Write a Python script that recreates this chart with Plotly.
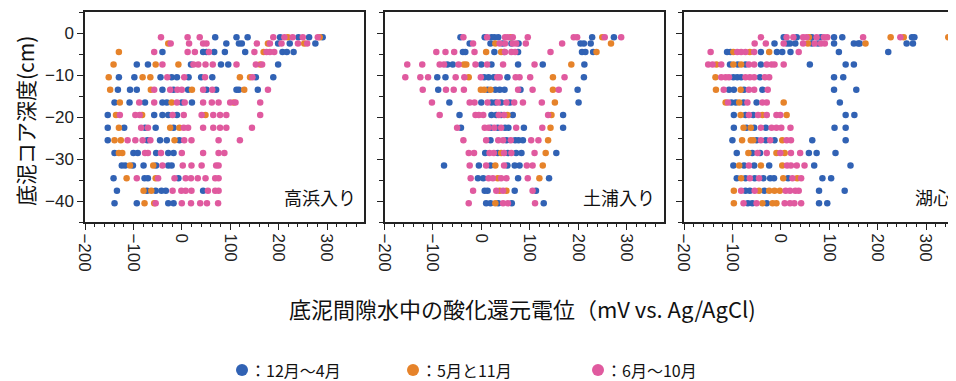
import plotly.graph_objects as go

# depth rows (cm) shared by all panels
DEPTHS = [-1, -2.5, -4.5, -7.5, -10.5, -13.5, -16.5, -19.5, -22.5, -25.5, -28.5, -31.5, -34.5, -37.5, -40.5]

PANELS = ["高浜入り", "土浦入り", "湖心"]
SERIES = ["：12月～4月", "：5月と11月", "：6月～10月"]
COLORS = ["#3162b4", "#e6832a", "#e05a9f"]
X_TICKS = [-200, -100, 0, 100, 200, 300]
X_TICK_LABELS = ["−200", "−100", "0", "100", "200", "300"]
Y_TICKS = [0, -10, -20, -30, -40]
Y_TICK_LABELS = ["0", "−10", "−20", "−30", "−40"]

# ---- 高浜入り (mV per depth row) ----
takahama_blue = [
    [69, 113, 136, 203, 241, 263, 291],
    [92, 118, 124, 199, 223, 276],
    [-40, 44, 51, 67, 89, 131, 208, 217, 231],
    [-93, -70, 19, 81, 96, 199],
    [-130, -98, -44, -21, -10, 14, 40, 63, 153, 189],
    [-132, -107, -93, -40, -17, 13, 51, 71, 113, 118, 157],
    [-139, -108, -76, -40, -31, 0, 21],
    [-153, -57, -40, -28, -10],
    [-153, -119, -76, -54, -17],
    [-153, -71, -45, -31, -5],
    [-139, -100, -91, -53, -28, -17],
    [-124, -117, -101, -79, -53, -28, -21],
    [-141, -77, -70, -7],
    [-134, -72, -54, -42, -33, 44],
    [-139, -93, -28, -17],
]
takahama_orange = [
    [219, 285],
    [-28, 178, 253],
    [-130, 169],
    [-141, -54, -7, 162],
    [-151, -81, -65, 120, 141],
    [-148, -64, 21, 129],
    [-128, -21, 107],
    [-136, -82, 49],
    [-130, -24, -5],
    [-139, -126, -15],
    [-130, -123],
    [-107, -59],
    [-114, -54],
    [-79, -63],
    [-77, -57],
]
takahama_pink = [
    [-43, 12, 37, 189, 212, 229, 250, 281],
    [-23, 15, 44, 51, 155, 182, 206, 240, 259],
    [-57, 12, 27, 56, 150, 175, 182, 191],
    [-40, 24, 34, 49, 64, 113, 153, 166],
    [-30, 5, 48, 146],
    [-57, -24, -9, 0, 44, 63, 178],
    [-88, -57, -10, 6, 44, 62, 76, 100, 111, 162],
    [-128, -96, -87, -19, 4, 41, 65, 79, 92, 162],
    [-84, -70, 4, 13, 44, 65, 79, 92, 145],
    [-112, -96, -81, -65, 5, 20, 76, 120],
    [-76, -70, -43, 0, 44, 76, 88],
    [-40, 2, 20, 41, 71, 76],
    [-93, -49, -15, 8, 19, 33, 49, 69, 76],
    [-19, -1, 8, 20, 54, 69, 76],
    [-54, 0, 19, 38, 52, 75],
]

# ---- 土浦入り ----
tsuchiura_blue = [
    [-43, 7, 21, 27, 35, 229, 274],
    [-24, 19, 44, 62, 77, 205, 212, 226],
    [-38, -33, 27, 47, 76, 208, 215, 231],
    [-70, -59, 0, 21, 76, 127, 213],
    [-91, -74, 6, 15, 26, 54, 212],
    [-89, 13, 29, 38, 48, 81, 199],
    [-66, 0, 21, 29, 41, 59, 201],
    [-45, 21, 31, 41, 65, 169],
    [-42, 20, 34, 49, 56, 88, 169],
    [19, 52, 70, 77, 86],
    [8, 34, 55, 72, 83, 155],
    [-77, -5, 19, 54, 69, 79],
    [-7, 4, 76, 140],
    [7, 13, 69, 113],
    [10, 19, 35, 63, 129],
]
tsuchiura_orange = [
    [61, 250],
    [29, 268],
    [10, 41, 238],
    [-36, -31, 186],
    [-26, 148],
    [-1, 6, 19, 148],
    [152],
    [54, 145],
    [143],
    [138],
    [41, 133],
    [29, 127],
    [34, 120],
    [38, 52],
    [29],
]
tsuchiura_pink = [
    [-37, 12, 49, 55, 65, 96, 191, 198, 255, 289],
    [-17, 38, 49, 65, 72, 92, 167],
    [-93, -74, -56, -14, 49, 62, 70, 143],
    [-153, -122, -86, -77, -47, -12, 12, 45, 110],
    [-157, -126, -110, -53, -35, -1, 33, 38, 71, 79, 101, 172],
    [-121, -73, -57, -36, 76, 106, 160],
    [-102, -24, -14, 13, 34, 52, 68, 86, 125],
    [-86, -12, -5, 4, 36, 47, 138],
    [-50, 7, 15, 27, 41, 72, 126],
    [-37, 10, 35, 45, 61, 103, 118],
    [-26, -15, 17, 26, 47, 62, 110],
    [-24, 10, 47, 94, 106],
    [-22, 15, 24, 41, 52, 96],
    [-17, 31, 45, 106],
    [-26, 45, 55, 111],
]

# ---- 湖心 ----
koshin_blue = [
    [6, 33, 64, 83, 110, 127, 271, 276],
    [-13, 13, 19, 30, 64, 77, 110, 151, 160, 163, 260, 273],
    [-111, -104, -41, -8, 3, 20, 120, 222],
    [-105, -89, -73, -41, 60, 134, 151],
    [-98, -90, -82, -43, 110, 129],
    [-107, -97, -76, -38, 110, 156],
    [-102, -93, -77, -50, 122],
    [-97, -73, -57, 134, 152],
    [-97, -71, -55, -31, 111, 134],
    [-100, -50, -31, -13, 65, 134],
    [-91, -59, -43, 58, 74, 113],
    [-98, -76, -55, -24, 69, 144],
    [-91, -73, -54, -36, -22, -14, 15, 86, 104],
    [-73, -64, -34, 79, 132],
    [-68, -59, -29, 79, 96],
]
koshin_orange = [
    [58, 227, 254, 346],
    [56, 175],
    [-98, -64, -24],
    [-133, -98, -82],
    [-135],
    [-134, -83],
    [-114, -86, 6],
    [-83, -38, 12],
    [-77, -62],
    [-80, -62, -57, 3],
    [-67, -9, 8],
    [-86, -41, 3],
    [-82, 5, 34],
    [-97, -45, -24, -13, -2],
    [-97, -38, -17, -9],
]
koshin_pink = [
    [-41, 12, 26, 46, 53, 74, 89, 96, 170, 247],
    [-54, -31, 6, 46, 70, 83, 91],
    [-145, -90, -82, -73, -55, 37],
    [-150, -141, -123, -66, -55, -29, -19, -13, 6],
    [-123, -114, -107, -73, -64, -55, -33, -24],
    [-118, -66, -55, -27],
    [-109, -69, -38, -29],
    [-66, -47, -29, -9, -1],
    [-41, -19, -9, 1, 20],
    [-41, -22, 12, 21],
    [-48, -29, -1, 21, 40],
    [-66, 13, 21, 33, 49],
    [-64, -45, 24, 42],
    [-82, -54, 10, 19, 30, 37],
    [-77, -50, 8, 19, 28, 42],
]

panel_data = [
    [takahama_blue, takahama_orange, takahama_pink],
    [tsuchiura_blue, tsuchiura_orange, tsuchiura_pink],
    [koshin_blue, koshin_orange, koshin_pink],
]

# page body has an 8 px margin: lay out in window pixels, then shift
OFF = 8
WIN_W, WIN_H = 956, 381
W, H = WIN_W - OFF, WIN_H - OFF


def fx(px):
    return (px - OFF) / W


def fy(py):
    return (H - (py - OFF)) / H


PLOT_TOP, PLOT_BOTTOM = 12, 222.3
PX_PER_100 = 48.4
panel_px = [(85, 364), (384.5, 663.5), (684, 956)]

fig = go.Figure()
NUM_FONT = "Liberation Sans, Arial, Noto Sans CJK JP"
CJK_FONT = "Noto Sans CJK JP, Liberation Sans"

for p, series_list in enumerate(panel_data):
    xa = "x" if p == 0 else f"x{p+1}"
    ya = "y" if p == 0 else f"y{p+1}"
    for s, rows in enumerate(series_list):
        xs, ys = [], []
        for d, vals in zip(DEPTHS, rows):
            for v in vals:
                xs.append(v)
                ys.append(d)
        fig.add_trace(go.Scatter(
            x=xs, y=ys, mode="markers", xaxis=xa, yaxis=ya,
            marker=dict(size=6.5, color=COLORS[s], line=dict(width=0)),
            showlegend=False, hoverinfo="skip", cliponaxis=False))

ydom = [fy(PLOT_BOTTOM), fy(PLOT_TOP)]
layout = dict(
    width=W, height=H, margin=dict(l=0, r=0, t=0, b=0, autoexpand=False),
    paper_bgcolor="white", plot_bgcolor="white", showlegend=False,
)
for p, (x0, x1) in enumerate(panel_px):
    xk = "xaxis" if p == 0 else f"xaxis{p+1}"
    yk = "yaxis" if p == 0 else f"yaxis{p+1}"
    xmax = -200 + (x1 - x0) / PX_PER_100 * 100
    layout[xk] = dict(
        domain=[fx(x0), min(1.0, fx(x1))], range=[-200, xmax],
        anchor="y" if p == 0 else f"y{p+1}", automargin=False,
        tickvals=X_TICKS, ticktext=X_TICK_LABELS, tickangle=90,
        ticks="outside", ticklen=6, tickwidth=1.2, tickcolor="#222",
        minor=dict(dtick=20, tick0=0, ticks="outside", ticklen=3, tickcolor="#222", tickwidth=1),
        showline=True, mirror=True, linecolor="#222", linewidth=1.5,
        showgrid=False, zeroline=False,
        tickfont=dict(family=NUM_FONT, size=17, color="#222"),
    )
    layout[yk] = dict(
        domain=ydom, range=[-45, 5], anchor="x" if p == 0 else f"x{p+1}",
        automargin=False,
        tickvals=Y_TICKS, ticktext=Y_TICK_LABELS,
        ticks="outside", ticklen=6, tickwidth=1.2, tickcolor="#222",
        minor=dict(dtick=5, tick0=0, ticks="outside", ticklen=4, tickcolor="#222", tickwidth=1),
        showticklabels=(p == 0),
        showline=True, mirror=(p < 2), linecolor="#222", linewidth=1.5,
        showgrid=False, zeroline=False,
        tickfont=dict(family=NUM_FONT, size=17, color="#222"),
    )
fig.update_layout(**layout)

annotations = []
label_centers = [320, 619, 933]
for name, cx in zip(PANELS, label_centers):
    annotations.append(dict(
        text=name, x=fx(cx), y=fy(197), xref="paper", yref="paper",
        xanchor="center", yanchor="middle", showarrow=False,
        font=dict(family=CJK_FONT, size=18, color="#111")))

annotations.append(dict(
    text="底泥コア深度(cm)", x=fx(25), y=fy(121), xref="paper", yref="paper",
    xanchor="center", yanchor="middle", textangle=-90, showarrow=False,
    borderpad=0,
    font=dict(family=CJK_FONT, size=21, color="#111")))
annotations.append(dict(
    text="底泥間隙水中の酸化還元電位（mV vs. Ag/AgCl)", x=fx(522), y=fy(308),
    xref="paper", yref="paper", xanchor="center", yanchor="middle", showarrow=False,
    font=dict(family=CJK_FONT, size=22, color="#111")))

shapes = []
legend_dot_x = [242, 413, 598]
for lx, name, col in zip(legend_dot_x, SERIES, COLORS):
    shapes.append(dict(type="circle", xref="paper", yref="paper",
                       x0=fx(lx - 6), x1=fx(lx + 6),
                       y0=fy(376), y1=fy(364),
                       fillcolor=col, line=dict(width=0)))
    annotations.append(dict(
        text=name, x=fx(lx + 6), y=fy(370), xref="paper", yref="paper",
        xanchor="left", yanchor="middle", showarrow=False,
        font=dict(family=CJK_FONT, size=16, color="#111")))

fig.update_layout(annotations=annotations, shapes=shapes)
fig.write_html("out.html")
